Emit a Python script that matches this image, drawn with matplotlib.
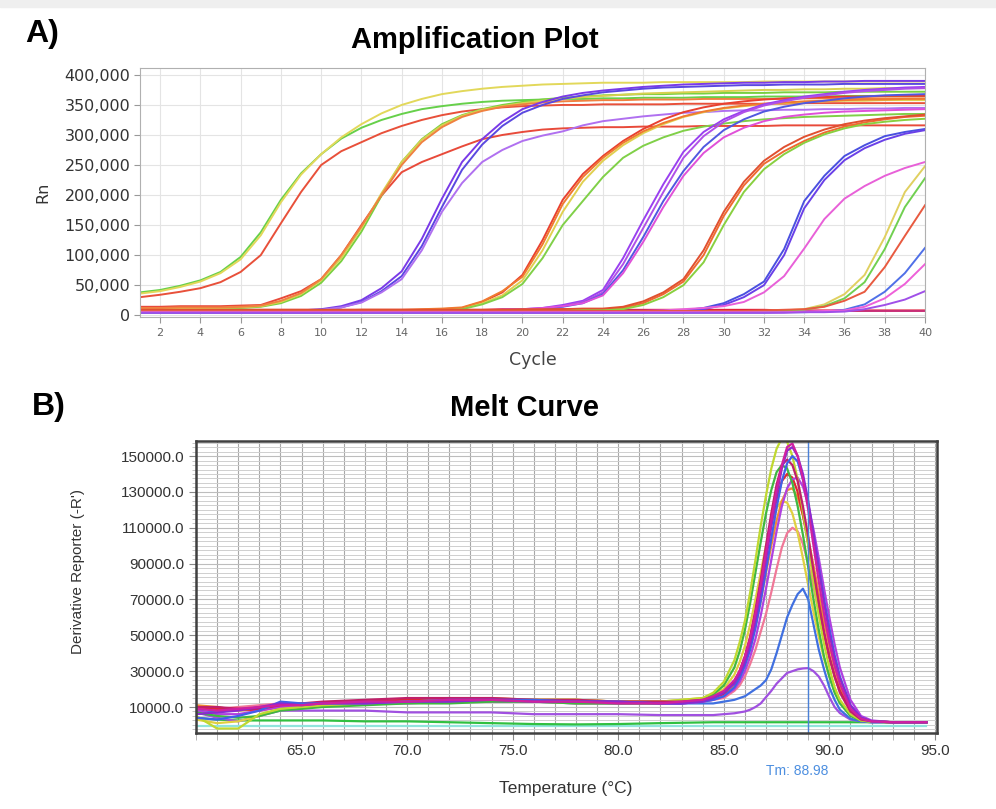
import matplotlib.pyplot as plt
import numpy as np
from matplotlib.ticker import FuncFormatter, MultipleLocator
from matplotlib.patches import Rectangle

# ---- amplification plot data (Rn in thousands, one value per cycle 1..40) ----
cycles = np.arange(1, 41)

amp_g1 = [38,42,49,58,72,97,138,192,236,268,294,312,325,335,343,348,352,355,357,358,
          359,360,360,361,361,362,362,362,363,363,363,364,364,364,364,365,365,365,365,365]
amp_y1 = [36,40,47,56,70,93,133,188,234,268,296,318,336,350,360,368,373,377,380,382,
          384,385,386,387,387,387,388,388,388,388,388,389,389,389,389,389,389,389,389,389]
amp_r1 = [30,34,39,45,55,72,100,153,205,250,273,288,303,315,325,333,339,343,346,348,
          349,350,350,351,351,351,351,352,352,352,352,352,352,353,353,353,353,353,353,353]
amp_r2 = [14,14,15,15,15,16,17,28,40,60,100,150,199,238,255,268,281,293,300,305,
          309,311,312,313,313,314,314,314,315,315,315,315,316,316,316,316,316,316,316,316]
amp_g2 = [10,10,10,11,11,12,14,20,32,54,90,139,199,255,293,318,333,343,350,355,
          359,362,364,366,367,368,368,369,369,370,370,370,371,371,371,372,372,372,372,372]
amp_y2 = [11,11,11,12,12,13,15,22,35,58,95,145,203,255,292,316,332,342,348,353,
          357,360,363,365,367,369,370,371,372,373,374,375,375,376,376,377,377,378,378,378]
amp_o2 = [12,12,13,13,13,14,16,24,37,60,100,148,200,250,288,313,330,340,347,351,
          354,356,357,358,358,359,359,359,360,360,360,360,360,361,361,361,361,361,361,361]
amp_p3a = [6,6,6,6,6,6,7,7,8,10,15,25,45,73,127,194,255,293,322,343,
           355,364,370,374,377,380,382,384,385,386,387,387,388,388,389,389,390,390,390,390]
amp_p3b = [5,5,5,5,5,5,6,6,7,9,13,22,40,65,115,180,242,284,315,337,
           350,360,366,371,374,377,379,380,381,382,383,383,384,384,384,385,385,385,385,385]
amp_p3c = [5,5,5,5,5,5,6,6,7,9,13,21,38,60,108,172,220,255,275,290,
           299,306,316,323,327,331,334,337,338,340,341,341,342,342,343,343,344,344,345,345]
amp_r4 = [7,7,7,7,7,7,7,7,7,7,8,8,8,8,9,10,12,22,38,67,
          125,192,235,265,290,310,326,338,346,352,356,359,361,362,363,364,364,365,365,365]
amp_y4 = [6,6,6,6,6,6,6,6,6,6,7,7,7,7,8,9,11,20,33,58,
          108,172,222,257,283,303,318,330,338,344,348,351,353,355,356,357,357,358,358,358]
amp_g4 = [6,6,6,6,6,6,6,6,6,6,7,7,7,7,8,9,10,18,30,52,
          95,150,190,230,262,282,296,307,314,319,323,326,328,330,331,332,333,334,335,335]
amp_o4 = [8,8,8,8,8,8,8,8,8,8,8,9,9,9,10,11,13,23,40,64,
          118,185,230,262,287,306,320,331,339,345,349,352,354,356,357,358,359,359,360,360]
amp_p5a = [5,5,5,5,5,5,5,5,5,5,6,6,6,6,6,7,7,8,9,10,
           12,17,24,42,95,158,218,272,305,326,340,351,358,364,368,372,375,377,379,380]
amp_p5b = [4,4,4,4,4,4,4,4,4,4,5,5,5,5,5,6,6,7,8,9,
           11,15,22,38,85,145,205,262,298,322,338,349,356,362,366,370,373,375,377,378]
amp_b5 = [5,5,5,5,5,5,5,5,5,5,5,5,6,6,6,6,7,7,8,9,
          11,14,20,35,75,130,190,240,280,308,326,339,347,353,357,361,364,366,367,368]
amp_m5 = [6,6,6,6,6,6,6,6,6,6,6,6,7,7,7,7,8,8,9,10,
          12,15,20,33,70,122,180,232,270,296,312,323,330,334,337,339,340,341,342,343]
amp_o6 = [7,7,7,7,7,7,7,7,7,7,7,7,7,7,7,7,8,8,8,8,
          8,8,9,9,12,20,35,56,100,165,216,252,273,290,304,314,321,326,330,332]
amp_r6 = [9,9,9,9,9,9,9,9,9,9,9,9,9,9,9,9,9,9,9,10,
          10,10,11,11,14,23,38,60,108,172,222,257,280,297,309,318,324,328,331,334]
amp_g6 = [6,6,6,6,6,6,6,6,6,6,6,6,6,6,6,6,6,6,7,7,
          7,7,8,8,10,17,30,50,88,150,205,243,268,287,301,311,318,322,325,327]
amp_b7a = [5,5,5,5,5,5,5,5,5,5,5,5,5,5,5,5,5,5,5,5,
           5,5,5,5,6,6,7,8,12,20,35,56,110,190,232,265,283,298,305,310]
amp_b7b = [4,4,4,4,4,4,4,4,4,4,4,4,4,4,4,4,4,4,4,4,
           4,4,4,4,5,5,6,7,10,17,30,50,100,178,225,258,278,292,302,308]
amp_pk7 = [6,6,6,6,6,6,6,6,6,6,6,6,6,6,6,6,6,6,6,6,
           6,6,6,6,7,7,8,10,12,15,22,38,65,111,160,194,215,232,245,255]
amp_y8 = [5,5,5,5,5,5,5,5,5,5,5,5,5,5,5,5,5,5,5,5,
          5,5,5,5,5,5,5,5,5,5,6,7,8,10,18,35,67,130,205,248]
amp_g8 = [5,5,5,5,5,5,5,5,5,5,5,5,5,5,5,5,5,5,5,5,
          5,5,5,5,5,5,5,5,5,5,6,6,7,9,15,28,55,110,180,228]
amp_r8 = [7,7,7,7,7,7,7,7,7,7,7,7,7,7,7,7,7,7,7,7,
          7,7,7,7,7,7,7,7,7,7,7,8,9,10,14,24,39,80,132,183]
amp_b9 = [4,4,4,4,4,4,4,4,4,4,4,4,4,4,4,4,4,4,4,4,
          4,4,4,4,4,4,4,4,4,4,4,4,5,5,6,9,18,39,70,112]
amp_pk9 = [5,5,5,5,5,5,5,5,5,5,5,5,5,5,5,5,5,5,5,5,
           5,5,5,5,5,5,5,5,5,5,5,5,5,6,7,8,14,28,52,85]
amp_p9 = [4,4,4,4,4,4,4,4,4,4,4,4,4,4,4,4,4,4,4,4,
          4,4,4,4,4,4,4,4,4,4,4,4,4,5,5,6,10,17,26,40]
amp_r0 = [10,10,10,9,9,9,9,9,9,9,9,9,9,9,9,9,9,9,10,10,
          10,10,10,10,9,9,9,9,9,9,9,9,8,8,8,8,8,8,8,8]
amp_r0b = [8,8,8,8,8,8,8,7,7,7,7,7,7,7,7,7,8,8,8,8,
           8,8,8,8,8,8,8,7,7,7,7,7,7,7,7,7,7,7,7,7]

amp_series = [
    (amp_r0, '#e0203c'), (amp_r0b, '#c83078'),
    (amp_g1, '#66d04a'), (amp_y1, '#e2d85a'), (amp_r1, '#e8503a'),
    (amp_r2, '#e84a3a'), (amp_g2, '#78d040'), (amp_y2, '#d8d050'), (amp_o2, '#f08040'),
    (amp_p3a, '#7a3ae8'), (amp_p3b, '#5a48e0'), (amp_p3c, '#b070f0'),
    (amp_r4, '#e84030'), (amp_y4, '#e0d050'), (amp_g4, '#80d048'), (amp_o4, '#f07a30'),
    (amp_p5a, '#9a40f0'), (amp_p5b, '#b050e8'), (amp_b5, '#5058e0'), (amp_m5, '#e050d8'),
    (amp_o6, '#f06a30'), (amp_r6, '#e05030'), (amp_g6, '#88d040'),
    (amp_b7a, '#4a50e0'), (amp_b7b, '#6a40e8'), (amp_pk7, '#e860d8'),
    (amp_y8, '#e0d060'), (amp_g8, '#70d050'), (amp_r8, '#e85a40'),
    (amp_b9, '#5070e8'), (amp_pk9, '#ee60d8'), (amp_p9, '#a050e8'),
]

# ---- melt curve data (derivative reporter in thousands) ----
temps = [60.0, 61, 62, 63, 64, 65, 66, 68, 70, 72, 74, 76, 78, 80, 82, 83, 84, 84.5, 85,
         85.5, 85.75, 86, 86.25, 86.5, 86.75, 87, 87.25, 87.5, 87.75, 88, 88.25, 88.5,
         88.75, 89, 89.25, 89.5, 89.75, 90, 90.25, 90.5, 91, 91.5, 92, 93, 94, 94.6]

mc_magenta = [9,8,9,10,11,11,12, 13,13,14,14,13,13,12,12, 13,14,16,19,
              25,30,38,48,62,78,96,114,131,145,155,157,150,137,120,100,80,62,46,33,23,
              9,3.5,2,1.5,1.5,1.5]
mc_purple = [6,7,8,10,12,11,12, 12,13,13,14,13,13,13,12, 12,13,15,18,
             23,28,35,45,58,74,92,111,128,143,153,155,150,140,125,106,87,68,51,37,26,
             11,4,2,1.5,1.5,1.5]
mc_blue = [4,3,5,8,13,12,12, 12,13,14,14,14,13,13,12, 12,13,14,16,
           21,26,33,42,54,69,86,104,121,136,146,150,147,137,123,106,88,70,54,39,27,
           11,4,2,1.5,1.5,1.5]
mc_yellowgreen = [5,-2,-2,6,9,10,11, 12,13,14,14,14,14,13,13, 14,15,18,24,
                  36,46,58,74,92,111,128,143,154,160,158,150,137,119,100,80,61,45,32,21,14,
                  6,2.5,1.8,1.5,1.5,1.5]
mc_green = [7,5,4,5,8,9,10, 11,12,12,13,13,12,12,12, 13,14,17,22,
            32,41,53,68,85,102,118,131,141,145,143,135,122,106,88,70,53,38,27,18,12,
            5,2.5,1.8,1.5,1.5,1.5]
mc_red = [10,9,9,8,10,11,12, 13,14,15,14,14,13,13,13, 13,14,16,17,
          24,30,38,49,63,79,96,112,126,136,140,138,130,117,101,84,67,51,38,27,19,
          8,3,2,1.5,1.5,1.5]
mc_orange = [11,10,8,9,10,11,12, 13,14,14,15,14,14,13,13, 13,14,15,17,
             22,27,34,43,55,69,85,100,114,125,131,132,127,117,104,89,73,58,44,32,22,
             9,3.5,2,1.5,1.5,1.5]
mc_yellow = [3,1,2,5,9,10,11, 12,13,13,14,14,14,13,13, 14,15,17,20,
             28,35,44,56,70,85,100,112,121,125,124,118,107,93,78,63,49,37,27,19,13,
             5.5,2.5,1.8,1.5,1.5,1.5]
mc_pink = [9,9,10,11,12,12,12, 13,13,13,13,13,12,12,12, 12,13,14,15,
           19,22,27,34,42,52,62,74,87,99,107,110,108,101,90,77,63,50,38,28,20,
           8,3,2,1.5,1.5,1.5]
mc_violet = [8,6,6,8,10,11,11, 12,12,13,13,13,13,12,12, 12,13,14,16,
             20,24,30,38,48,61,76,92,108,122,132,137,138,133,123,109,93,76,60,45,32,
             14,5,2.5,1.5,1.5,1.5]
mc_crimson = [10,10,9,9,11,12,13, 14,15,15,15,14,14,13,13, 13,14,15,18,
              24,30,38,49,64,81,100,118,134,145,148,145,136,122,105,86,68,52,38,27,18,
              7.5,3,2,1.5,1.5,1.5]
mc_blue_small = [8,7,9,10,12,12,12, 12,13,13,13,13,12,12,12, 12,12,12,13,
                 14,15,16,18,20,22,25,31,40,50,60,67,73,76,70,56,42,31,21,14,8.5,
                 3.5,2,1.5,1.5,1.5,1.5]
mc_purple_small = [7,4,2,5,8,8,8, 8,7,7,7,6,6,6,5.5, 5.5,5.5,5.5,6,
                   6.5,7,7.5,8.5,10,12,15.5,19,23,26,29,30,31,31.5,31.7,30,27,22,15.6,10,6.6,
                   3,2,1.5,1.5,1.5,1.5]
mc_green_flat = [4,3,2.5,2.5,2.5,2.5,2.5, 2,2,1.5,1,0.5,0.3,0.5,1, 1.2,1.4,1.5,1.5,
                 1.5,1.5,1.5,1.5,1.5,1.5,1.5,1.5,1.5,1.5,1.5,1.5,1.5,1.5,1.5,1.5,1.5,1.5,1.5,1.5,1.5,
                 1.5,1.5,1.5,1.5,1.5,1.5]
mc_cyan_flat = [-0.5,-0.5,-0.5,-0.5,-0.5,-0.5,-0.5, -0.5,-0.5,-0.5,-0.5,-0.5,-0.5,-0.5,-0.5,
                -0.5,-0.5,-0.5,-0.5,
                -0.5,-0.5,-0.5,-0.5,-0.5,-0.5,-0.5,-0.5,-0.5,-0.5,-0.5,-0.5,-0.5,-0.5,-0.5,-0.5,
                -0.5,-0.5,-0.5,-0.5,-0.5,
                -0.5,-0.5,-0.5,-0.5,-0.5,-0.5]

melt_series = [
    (mc_cyan_flat, '#90e4dc'), (mc_green_flat, '#30c040'),
    (mc_purple_small, '#a050e0'), (mc_blue_small, '#4070e0'),
    (mc_pink, '#f07898'), (mc_yellow, '#e0d040'), (mc_orange, '#f09030'),
    (mc_red, '#e02830'), (mc_violet, '#b040e0'), (mc_green, '#40b840'),
    (mc_yellowgreen, '#c0d830'), (mc_crimson, '#c0206a'), (mc_blue, '#4060e8'),
    (mc_purple, '#8a2ad0'), (mc_magenta, '#d020a0'),
]
tm_value = 88.98

fig = plt.figure(figsize=(9.96, 8.09), dpi=100)
fig.patches.append(Rectangle((0, 1 - 7 / 809), 1, 7 / 809, transform=fig.transFigure,
                             color='#efefef', zorder=0))

# ---------------- A) amplification plot ----------------
ax1 = fig.add_axes([140 / 996, 1 - 317 / 809, 785 / 996, 249 / 809])
for vals, col in amp_series:
    ax1.plot(cycles, np.array(vals) * 1000, color=col, lw=1.4)
ax1.set_xlim(1, 40)
ax1.set_ylim(-3000, 411500)
ax1.set_xticks(np.arange(2, 41, 2))
ax1.set_yticks(np.arange(0, 400001, 50000))
ax1.yaxis.set_major_formatter(FuncFormatter(lambda v, p: f"{int(v):,}"))
ax1.grid(True, color='#e4e4e4', lw=0.8)
ax1.set_axisbelow(True)
for s in ax1.spines.values():
    s.set_color('#b0b0b0')
    s.set_linewidth(0.8)
ax1.tick_params(axis='y', length=4, color='#999999', labelsize=11.5, labelcolor='#333333', pad=3)
ax1.tick_params(axis='x', length=4, color='#999999', labelsize=8, labelcolor='#666666', pad=4)
ax1.set_xlabel('Cycle', fontsize=12.5, color='#444444', labelpad=9)
ax1.set_ylabel('Rn', fontsize=11.5, color='#333333', labelpad=10)

fig.text(25 / 996, 1 - 34 / 809, 'A)', fontsize=23, fontweight='bold',
         family='Liberation Sans', va='center', ha='left')
fig.text(475 / 996, 1 - 40 / 809, 'Amplification Plot', fontsize=21, fontweight='bold',
         family='Liberation Sans', va='center', ha='center')

# ---------------- B) melt curve ----------------
ax2 = fig.add_axes([196 / 996, 1 - 733 / 809, 741 / 996, 292 / 809])
for vals, col in melt_series:
    ax2.plot(temps, np.array(vals) * 1000, color=col, lw=1.6)
ax2.axvline(tm_value, color='#4a80d8', lw=1.0)
ax2.set_xlim(60.0, 95.1)
ax2.set_ylim(-4500, 158400)
ax2.set_xticks(np.arange(65, 96, 5))
ax2.xaxis.set_minor_locator(MultipleLocator(1))
ax2.set_yticks(np.arange(10000, 150001, 20000))
ax2.yaxis.set_minor_locator(MultipleLocator(2500))
ax2.xaxis.set_major_formatter(FuncFormatter(lambda v, p: f"{v:.1f}"))
ax2.yaxis.set_major_formatter(FuncFormatter(lambda v, p: f"{v:.1f}"))
ax2.grid(True, which='minor', axis='y', color='#cfcfcf', lw=0.7)
ax2.grid(True, which='major', axis='y', color='#bdbdbd', lw=0.8)
ax2.grid(True, which='both', axis='x', color='#a8a8a8', lw=0.8)
ax2.set_axisbelow(True)
for s in ax2.spines.values():
    s.set_color('#404040')
    s.set_linewidth(1.8)
for lab in ax2.get_xticklabels() + ax2.get_yticklabels():
    lab.set_family('Liberation Sans')
ax2.tick_params(axis='both', which='major', length=5, color='#888888', labelsize=11,
                labelcolor='#333333')
ax2.tick_params(axis='x', which='major', pad=3)
ax2.tick_params(axis='x', which='minor', length=5, color='#aaaaaa')
ax2.tick_params(axis='y', which='minor', length=3, color='#bbbbbb')

fig.text(78 / 996, 1 - 572 / 809, "Derivative Reporter (-R')", rotation=90, fontsize=11,
         family='Liberation Sans', color='#333333', va='center', ha='center')
fig.text(566 / 996, 1 - 789 / 809, 'Temperature (°C)', fontsize=12.5,
         family='Liberation Sans', color='#333333', va='center', ha='center')
fig.text(797 / 996, 1 - 771 / 809, f'Tm: {tm_value:.2f}', fontsize=10,
         family='Liberation Sans', color='#4d8fe0', va='center', ha='center')
fig.text(32 / 996, 1 - 407 / 809, 'B)', fontsize=23, fontweight='bold',
         family='Liberation Sans', va='center', ha='left')
fig.text(524 / 996, 1 - 408 / 809, 'Melt Curve', fontsize=21, fontweight='bold',
         family='Liberation Sans', va='center', ha='center')

fig.savefig('out.png', dpi=100, facecolor='white')
